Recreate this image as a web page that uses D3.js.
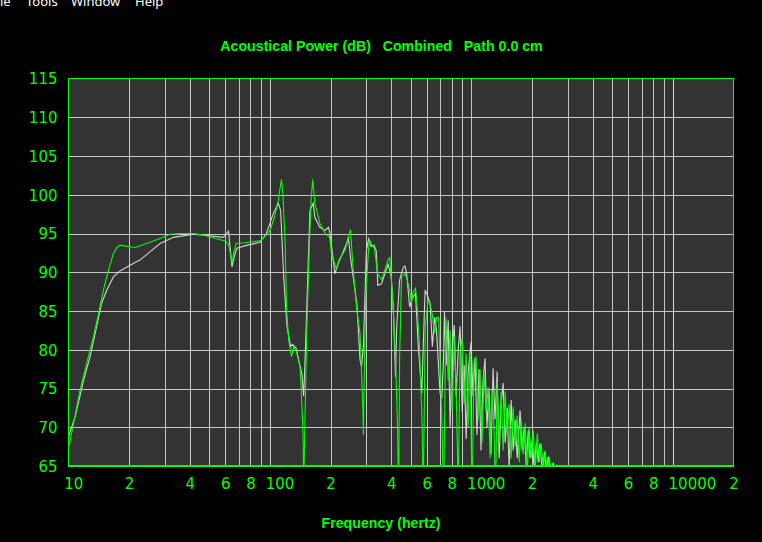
<!DOCTYPE html>
<html><head><meta charset="utf-8">
<script src="https://cdn.jsdelivr.net/npm/d3@7/dist/d3.min.js"></script>
<style>
html,body{margin:0;padding:0;background:#000;}
svg{display:block;}
</style></head>
<body>
<svg id="chart" width="762" height="542"></svg>
<script>
// ---- data ----
const menuItems = ["le", "Tools", "Window", "Help"];
const menuX = [0, 26, 71, 135];
const chartTitle = "Acoustical Power (dB)   Combined   Path 0.0 cm";
const xAxisTitle = "Frequency (hertz)";
const xDomain = [10, 20000];
const yDomain = [65, 115];
const xTicks = [10,20,40,60,80,100,200,400,600,800,1000,2000,4000,6000,8000,10000,20000];
const xTickLabels = ["10","2","4","6","8","100","2","4","6","8","1000","2","4","6","8","10000","2"];
const yTicks = [65,70,75,80,85,90,95,100,105,110,115];
const gridFreqs = [20,30,40,50,60,70,80,90,100,200,300,400,500,600,700,800,900,1000,2000,3000,4000,5000,6000,7000,8000,9000,10000];

// white (gray) trace [Hz, dB]
const whiteSeries = [
[10,68.8],[10.8,71.4],[11.9,76.1],[12.8,79.1],[13.8,83],[14.6,86],[15.5,87.7],[16.7,89.4],[18.1,90.2],[20.2,90.9],
[22.7,91.6],[25,92.5],[28.5,93.7],[33.2,94.5],[41.7,94.9],[50,94.7],[58.7,94.5],[61,95],[62.3,95.3],[63.5,93],
[64.8,90.7],[66.5,92],[68.5,93.1],[75,93.4],[89.5,93.9],[96,95],[104,97.6],[110,98.9],[113,98],[117,89.4],
[121.5,83],[126.8,80.4],[129.5,80.7],[135,80.2],[138.8,78.7],[144,76.9],[147,74],[150,80],[155,91.6],[158,98],
[164,98.9],[167,97.1],[177,95.8],[188,95.4],[195,95.8],[198,95.2],[203,93],[210,89.8],[218,91.1],[240,93.7],
[245,94.5],[252,91.6],[270,86],[280,78.7],[285,77.8],[291,80.4],[301,92.8],[309,94.3],[318,93.3],[328,93.5],
[337,92.8],[343,88.3],[358,88.5],[372,89.8],[386,91],[400,89.4],[410,85.1],[420,76.5],[426,83],[440,89],
[460,90.7],[469,90.8],[478,89.6],[494,85.5],[505,86.5],[528,87.3],[545,80.4],[567,74.4],[589,87.7],[605,87],
[624,86],[640,80.4],[657,84.2],[671,82.5],[699,74.4],[713,73.7],[727,78.7],[735,84.9],[749,78],[767,83.8],
[784,70],[803,80],[822,83.2],[840,74],[860,80],[879,83],[900,72],[921,78],[942,68.5],[963,77],
[996,81],[1019,74],[1042,79],[1066,69],[1091,77.5],[1116,67],[1142,76],[1168,78.9],[1195,70],[1223,75],
[1252,66.5],[1281,77.6],[1310,71],[1342,77.2],[1373,66],[1405,73],[1437,75.7],[1471,68],[1505,72.5],[1540,64.5],
[1575,73.5],[1612,67],[1649,71],[1688,66],[1744,72.2],[1787,67],[1829,70],[1871,65],[1915,69.6],[1956,66],
[2005,68.5],[2051,64.5],[2099,68],[2148,65.5],[2192,67.9],[2249,64],[2301,66.8],[2354,64.5],[2409,66.2],[2458,64],
[2550,65.4],[2640,63]
];

// green trace [Hz, dB]
const greenSeries = [
[10,67.2],[10.6,70.5],[11.4,74.8],[12.3,78.2],[13.3,81.7],[14.1,84.7],[14.9,87.7],[15.8,90.3],[16.7,92.4],[17.4,93.2],
[18,93.5],[19,93.4],[20.2,93.3],[21.5,93.2],[22.5,93.4],[25,93.8],[28,94.3],[32,94.9],[36,95],[42,95],
[48,94.7],[55,94.3],[60.5,94],[62.5,93.5],[64,92],[65,91.2],[66,92.5],[68,93.7],[75,93.8],[85,94],
[90,94.1],[95,94.7],[100,95.4],[105,97],[110,99.3],[114,102],[116,100],[119,93.7],[121,85.1],[124,81.2],
[128,79.1],[131,80.4],[135,79.9],[141,77.8],[143,74.8],[146,69.2],[147,62],[149,70.1],[152.6,83],[157,93.7],
[160,99.3],[163,102],[167,98.9],[177,96.3],[188,95],[198,94.5],[202,92.4],[213,90.5],[222,91.8],[236,92.8],
[245,94.5],[251,95.5],[259,90.3],[270,85.1],[280,82.1],[289,72.6],[291,69],[293,75],[299,87.3],[307,92],
[311,94.3],[320,93.5],[330,93.1],[343,89.8],[358,89],[372,90.3],[386,91.6],[393,91.9],[401,89],[410,84.7],
[420,78.7],[430,70],[435,60],[440,78.7],[450,89.4],[469,89.8],[480,89],[494,87.7],[505,86],[512,87.3],
[528,87.9],[535,86.4],[552,80.8],[570,70],[576,60],[590,83],[610,86.4],[622,86],[640,84.5],[655,82.1],
[672,84.2],[687,84.2],[700,78],[715,70],[727,60],[747,84.2],[767,76],[784,82.5],[803,72],[822,81.8],
[840,75],[860,62],[879,80],[900,81.5],[921,73],[942,79.5],[963,70],[985,79.6],[1008,60],[1030,78.5],
[1054,79],[1079,71],[1104,77.5],[1129,68],[1155,77],[1182,72],[1209,75.2],[1238,66],[1266,74.8],[1295,70],
[1318,61],[1342,75.9],[1373,68],[1405,74.6],[1437,67],[1471,74.6],[1505,69],[1540,73],[1575,66],[1612,72.6],
[1649,67.5],[1688,71.5],[1727,65.5],[1767,70.9],[1808,66.5],[1850,70.5],[1893,64],[1937,70.1],[1982,66],[2028,69.5],
[2075,64.5],[2123,69.2],[2173,65.5],[2223,67.9],[2275,64.5],[2327,67],[2381,64],[2437,66.2],[2493,64],[2522,65.3],
[2580,63],[2640,65.2],[2700,62]
];

// ---- drawing ----
const GREEN = "#00ff00", GRID = "#c8c8c8", PLOTBG = "#333333", TRACE = "#d2d2d2";
const svg = d3.select("#chart");
const pLeft = 68.5, pRight = 733.5, pTop = 78.5, pBottom = 466;
const x = d3.scaleLog().domain(xDomain).range([pLeft, pRight]);
const y = d3.scaleLinear().domain(yDomain).range([pBottom, pTop]);

svg.append("rect").attr("width",762).attr("height",542).attr("fill","#000");

// menu bar fragment
svg.append("g").selectAll("text").data(menuItems).join("text")
  .attr("x",(d,i)=>menuX[i]).attr("y",5.5)
  .attr("fill","#ffffff").attr("font-family","'Noto Sans', 'Open Sans', sans-serif").attr("font-size",13)
  .text(d=>d);

svg.append("text").attr("x",381.5).attr("y",51).attr("text-anchor","middle")
  .attr("fill",GREEN).attr("font-family","'Liberation Sans', Arial, sans-serif").attr("font-weight","bold")
  .attr("font-size",14.2).style("white-space","pre").text(chartTitle);

svg.append("text").attr("x",381).attr("y",528).attr("text-anchor","middle")
  .attr("fill",GREEN).attr("font-family","'Liberation Sans', Arial, sans-serif").attr("font-weight","bold")
  .attr("font-size",14.2).text(xAxisTitle);

svg.append("rect").attr("x",pLeft).attr("y",pTop).attr("width",pRight-pLeft).attr("height",pBottom-pTop).attr("fill",PLOTBG);

// gridlines
const grid = svg.append("g").attr("shape-rendering","crispEdges");
grid.selectAll("line.v").data(gridFreqs).join("line").attr("class","v")
  .attr("x1",d=>Math.round(x(d))+0.5).attr("x2",d=>Math.round(x(d))+0.5)
  .attr("y1",pTop).attr("y2",pBottom)
  .attr("stroke",d=>d===10000?"#dcdcdc":GRID).attr("stroke-width",1);
grid.selectAll("line.h").data(yTicks.slice(1,-1)).join("line").attr("class","h")
  .attr("x1",pLeft).attr("x2",pRight)
  .attr("y1",d=>Math.round(y(d))+0.5).attr("y2",d=>Math.round(y(d))+0.5)
  .attr("stroke",GRID).attr("stroke-width",1);

// traces
svg.append("clipPath").attr("id","plotclip").append("rect")
  .attr("x",pLeft).attr("y",pTop).attr("width",pRight-pLeft).attr("height",pBottom-pTop);
const line = d3.line().x(d=>x(d[0])).y(d=>y(d[1]));
const traces = svg.append("g").attr("clip-path","url(#plotclip)");
traces.append("path").datum(whiteSeries).attr("d",line)
  .attr("fill","none").attr("stroke",TRACE).attr("stroke-width",1.1);
traces.append("path").datum(greenSeries).attr("d",line)
  .attr("fill","none").attr("stroke",GREEN).attr("stroke-width",1.1);

// border
svg.append("rect").attr("x",pLeft).attr("y",pTop).attr("width",pRight-pLeft).attr("height",pBottom-pTop)
  .attr("fill","none").attr("stroke",GREEN).attr("stroke-width",1.5).attr("shape-rendering","crispEdges");

// axes
const labelFont = "'DejaVu Sans', Verdana, sans-serif";
const xAxis = d3.axisBottom(x).tickValues(xTicks).tickSize(0).tickPadding(0)
  .tickFormat((d,i)=>xTickLabels[i]);
const gx = svg.append("g").attr("transform",`translate(0,${pBottom})`).call(xAxis);
gx.select(".domain").remove();
gx.selectAll("text").attr("fill",GREEN).attr("font-family",labelFont).attr("font-size",15)
  .attr("text-anchor","start").attr("dx",-4.8).attr("dy",0).attr("y",22.5);

const yAxis = d3.axisLeft(y).tickValues(yTicks).tickSize(0).tickPadding(0).tickFormat(d3.format("d"));
const gy = svg.append("g").attr("transform",`translate(57.5,0)`).call(yAxis);
gy.select(".domain").remove();
gy.selectAll("text").attr("fill",GREEN).attr("font-family",labelFont).attr("font-size",15)
  .attr("text-anchor","end").attr("x",0).attr("dy","0.36em");
</script>
</body></html>
